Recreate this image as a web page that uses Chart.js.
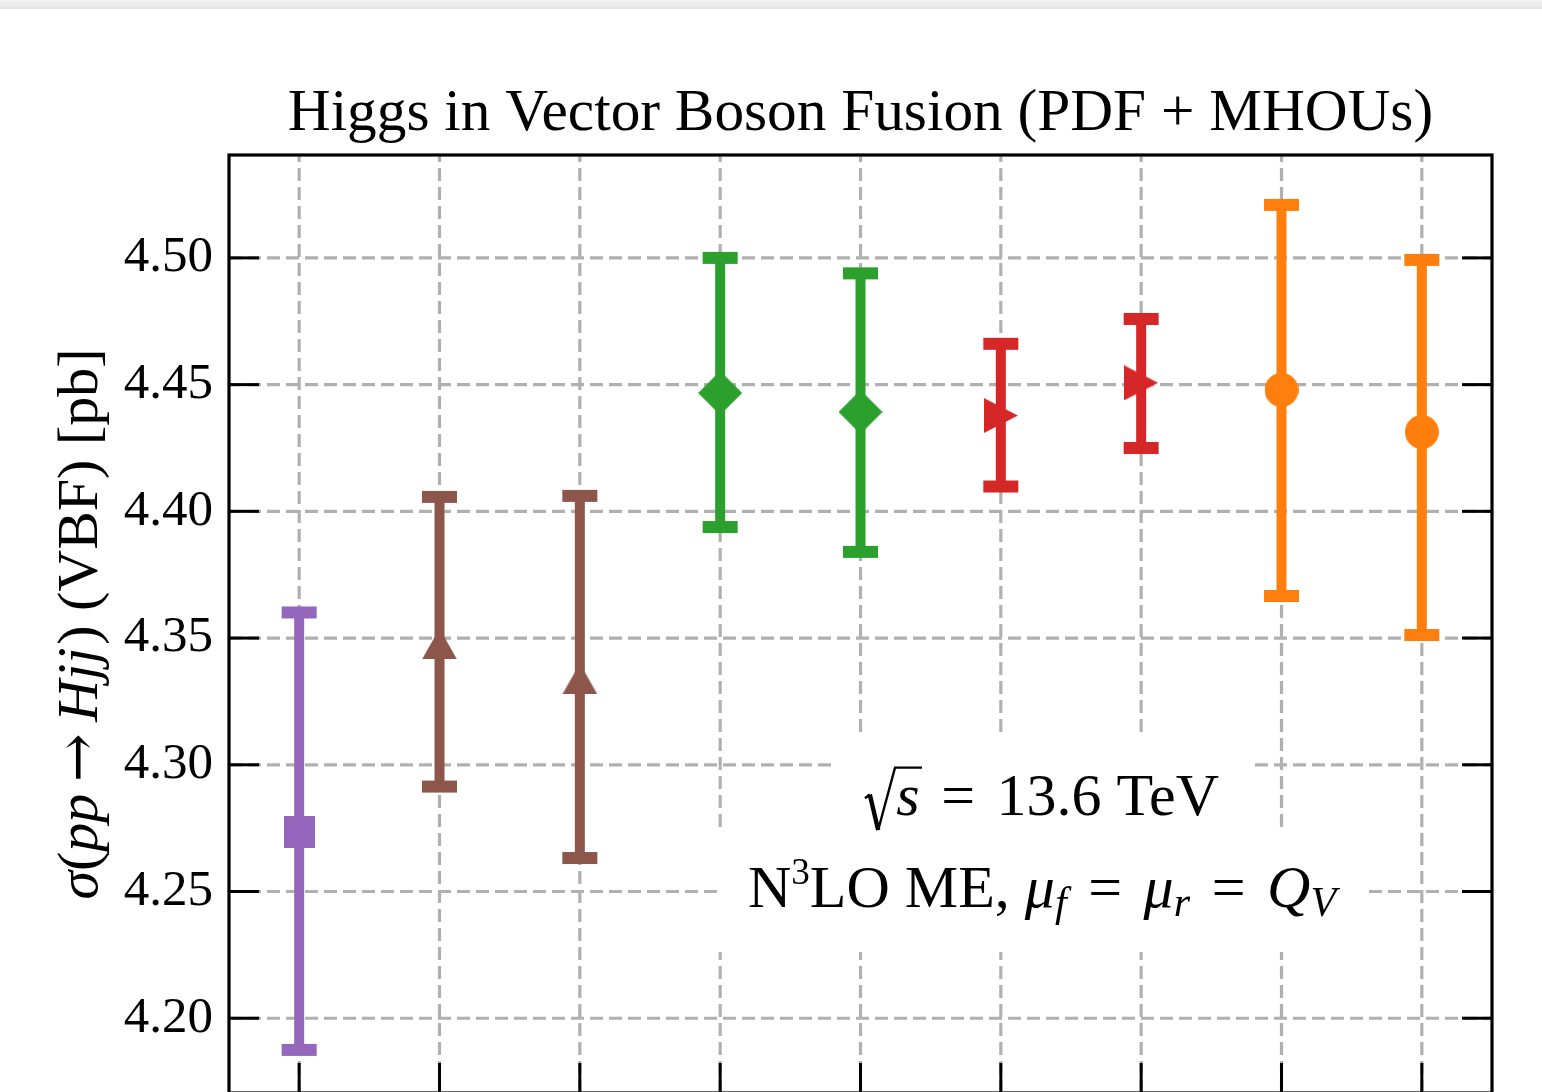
<!DOCTYPE html>
<html lang="en">
<head>
  <meta charset="UTF-8" />
  <title>Higgs in Vector Boson Fusion</title>
  <script src="https://cdn.jsdelivr.net/npm/chart.js"></script>
  <style>
    html, body { margin: 0; padding: 0; background: #fff; overflow: hidden; }
    #wrap { position: absolute; left: 0; top: 0; width: 1542px; height: 1150px; }
    .topbar {
      position: absolute; left: 0; top: 0; width: 100%; height: 9px; z-index: 2;
      background: linear-gradient(#f1f1f1, #e4e4e4);
    }
  </style>
</head>
<body>
<div id="wrap"><canvas id="xsec" width="1542" height="1150"></canvas></div>
<div class="topbar"></div>

<script>
  // cross sections with PDF + MHOU bands, one entry per setup
  const positions = [1, 2, 3, 4, 5, 6, 7, 8, 9];
  const central = [4.2735, 4.3477, 4.3339, 4.4467, 4.4392, 4.4378, 4.4507, 4.4479, 4.4313];
  const upper   = [4.3601, 4.4057, 4.4061, 4.5000, 4.4939, 4.4661, 4.4759, 4.5209, 4.4992];
  const lower   = [4.1875, 4.2914, 4.2632, 4.3938, 4.3840, 4.4098, 4.4250, 4.3666, 4.3512];
  const colors  = ['#9467bd', '#8c564b', '#8c564b', '#2ca02c', '#2ca02c', '#d62728', '#d62728', '#ff7f0e', '#ff7f0e'];
  const shapes  = ['square', 'triangleUp', 'triangleUp', 'diamond', 'diamond', 'triangleRight', 'triangleRight', 'circle', 'circle'];
  const yTicks  = [4.20, 4.25, 4.30, 4.35, 4.40, 4.45, 4.50];
  const yMin = 4.1705, yMax = 4.5406;
  const xMin = 0.5, xMax = 9.5;

  const SERIF = '"Liberation Serif", "DejaVu Serif", serif';
  const SYMB = '"DejaVu Serif", serif';

  // matplotlib-like marker glyphs, centred on their bounding box
  function markerImage(shape, color) {
    const sizes = { square: [31, 32], triangleUp: [35, 31], triangleRight: [34, 35], diamond: [44, 44], circle: [34, 34] };
    const [w, h] = sizes[shape];
    const c = document.createElement('canvas');
    c.width = w; c.height = h;
    const g = c.getContext('2d');
    g.fillStyle = color;
    g.beginPath();
    if (shape === 'square') g.rect(0, 0, w, h);
    else if (shape === 'triangleUp') { g.moveTo(w / 2, 0); g.lineTo(w, h); g.lineTo(0, h); }
    else if (shape === 'triangleRight') { g.moveTo(0, 0); g.lineTo(w, h / 2); g.lineTo(0, h); }
    else if (shape === 'diamond') { g.moveTo(w / 2, 0); g.lineTo(w, h / 2); g.lineTo(w / 2, h); g.lineTo(0, h / 2); }
    else g.arc(w / 2, h / 2, w / 2, 0, Math.PI * 2);
    g.closePath();
    g.fill();
    return c;
  }

  // rich text runs: it = italic, sup/sub = scripts, pad = extra space (em) on both sides
  function runFont(r, size) {
    const s = r.sup ? size * 0.62 : r.sub ? size * 0.7 : size;
    return { s, font: (r.it ? 'italic ' : '') + s + 'px ' + (r.sym ? SYMB : SERIF) };
  }
  function runsWidth(ctx, runs, size) {
    let w = 0;
    runs.forEach(r => {
      ctx.font = runFont(r, size).font;
      w += ctx.measureText(r.t).width + 2 * (r.pad || 0) * size + (r.gap || 0) * size;
    });
    return w;
  }
  function drawRuns(ctx, runs, x, y, size) {
    runs.forEach(r => {
      const dy = r.sup ? -0.38 * size : r.sub ? 0.15 * size : 0;
      ctx.font = runFont(r, size).font;
      x += (r.pad || 0) * size;
      ctx.fillText(r.t, x, y + dy);
      x += ctx.measureText(r.t).width + (r.pad || 0) * size + (r.gap || 0) * size;
    });
  }

  function line(ctx, x1, y1, x2, y2) {
    ctx.beginPath(); ctx.moveTo(x1, y1); ctx.lineTo(x2, y2); ctx.stroke();
  }

  const titleText = 'Higgs in Vector Boson Fusion (PDF + MHOUs)';
  const yLabelRuns = [
    { t: 'σ', it: true }, { t: '(' }, { t: 'pp', it: true }, { t: '→', sym: true, pad: 0.2 },
    { t: 'Hjj', it: true, gap: 0.05 }, { t: ') (VBF) [pb]' }
  ];
  const noteRuns = [
    { t: 'N' }, { t: '3', sup: true }, { t: 'LO ME, ' },
    { t: 'μ', it: true }, { t: 'f', it: true, sub: true }, { t: '=', pad: 0.36 },
    { t: 'μ', it: true }, { t: 'r', it: true, sub: true }, { t: '=', pad: 0.36 },
    { t: 'Q', it: true }, { t: 'V', it: true, sub: true }
  ];
  const energyRuns = [{ t: 's', it: true }, { t: '=', pad: 0.36 }, { t: '13.6 TeV' }];

  const axesDecor = {
    id: 'axesDecor',
    beforeDatasetsDraw(chart) {
      const { ctx, chartArea: a, scales: { x, y } } = chart;
      ctx.save();
      // dashed grid
      ctx.strokeStyle = '#b0b0b0';
      ctx.lineWidth = 3.2;
      ctx.setLineDash([13, 6]);
      yTicks.forEach(v => { const py = y.getPixelForValue(v); line(ctx, a.left, py, a.right, py); });
      positions.forEach(v => { const px = x.getPixelForValue(v); line(ctx, px, a.bottom, px, a.top); });
      ctx.setLineDash([]);

      // error bars with caps
      positions.forEach((p, i) => {
        const px = x.getPixelForValue(p);
        const pHi = y.getPixelForValue(upper[i]);
        const pLo = y.getPixelForValue(lower[i]);
        ctx.strokeStyle = colors[i];
        ctx.fillStyle = colors[i];
        ctx.lineWidth = 10;
        line(ctx, px, pLo, px, pHi);
        ctx.fillRect(px - 17.5, pHi - 6, 35, 12);
        ctx.fillRect(px - 17.5, pLo - 6, 35, 12);
      });
      ctx.restore();
    },
    afterDatasetsDraw(chart) {
      const { ctx, chartArea: a, scales: { x, y } } = chart;
      const W = a.right - a.left, H = a.bottom - a.top;
      ctx.save();
      ctx.fillStyle = '#000';
      ctx.textBaseline = 'alphabetic';

      // annotation boxes (white, no edge) and their text
      const fs = 60;
      const cx = a.left + 0.6437 * W;
      const base1 = a.top + 0.7036 * H;
      const base2 = a.top + 0.8017 * H;
      const rad = 0.52 * fs;
      const w1 = rad + runsWidth(ctx, energyRuns, fs);
      const w2 = runsWidth(ctx, noteRuns, fs);
      ctx.fillStyle = '#fff';
      ctx.fillRect(cx - w1 / 2 - 33, base1 - 77, w1 + 66, 120);
      ctx.fillRect(cx - w2 / 2 - 30, base2 - 75, w2 + 60, 120);
      ctx.fillStyle = '#000';
      ctx.strokeStyle = '#000';

      // radical sign over s
      const rx = cx - w1 / 2;
      ctx.font = 'italic ' + fs + 'px ' + SERIF;
      const sW = ctx.measureText('s').width;
      ctx.lineJoin = 'miter';
      ctx.lineWidth = 2.6;
      line(ctx, rx, base1 - 0.28 * fs, rx + 0.08 * fs, base1 - 0.34 * fs);
      ctx.lineWidth = 4.4;
      line(ctx, rx + 0.08 * fs, base1 - 0.34 * fs, rx + 0.22 * fs, base1 + 0.25 * fs);
      ctx.lineWidth = 2.4;
      ctx.beginPath();
      ctx.moveTo(rx + 0.22 * fs, base1 + 0.25 * fs);
      ctx.lineTo(rx + 0.50 * fs, base1 - 0.79 * fs);
      ctx.lineTo(rx + rad + sW + 0.04 * fs, base1 - 0.79 * fs);
      ctx.stroke();
      drawRuns(ctx, energyRuns, rx + rad, base1, fs);
      drawRuns(ctx, noteRuns, cx - w2 / 2, base2, fs);

      // axes frame and inward ticks
      ctx.lineWidth = 3.2;
      ctx.strokeRect(a.left, a.top, W, H);
      ctx.lineWidth = 3;
      yTicks.forEach(v => {
        const py = y.getPixelForValue(v);
        line(ctx, a.left, py, a.left + 30, py);
        line(ctx, a.right - 30, py, a.right, py);
      });
      positions.forEach(v => {
        const px = x.getPixelForValue(v);
        line(ctx, px, a.bottom, px, a.bottom - 30);
      });

      // title centred on the axes
      ctx.font = '59.3px ' + SERIF;
      ctx.textAlign = 'center';
      ctx.fillText(titleText, (a.left + a.right) / 2, 130);

      // rotated y label
      ctx.textAlign = 'left';
      const lw = runsWidth(ctx, yLabelRuns, 58);
      ctx.translate(97, (a.top + a.bottom) / 2);
      ctx.rotate(-Math.PI / 2);
      drawRuns(ctx, yLabelRuns, -lw / 2, 0, 58);
      ctx.restore();
    }
  };

  new Chart(document.getElementById('xsec'), {
    type: 'scatter',
    data: {
      datasets: [{
        data: positions.map((p, i) => ({ x: p, y: central[i] })),
        pointStyle: shapes.map((s, i) => markerImage(s, colors[i])),
        pointRadius: 18,
        showLine: false
      }]
    },
    options: {
      responsive: false,
      animation: false,
      events: [],
      layout: { padding: { top: 155, right: 50, bottom: 57, left: 0 } },
      plugins: { legend: { display: false }, tooltip: { enabled: false }, title: { display: false } },
      scales: {
        x: { type: 'linear', min: xMin, max: xMax, display: false },
        y: {
          type: 'linear',
          min: yMin,
          max: yMax,
          afterBuildTicks: s => { s.ticks = yTicks.map(v => ({ value: v })); },
          afterFit: s => { s.width = 229; },
          grid: { display: false, drawTicks: false },
          border: { display: false },
          ticks: {
            color: '#000',
            padding: 16,
            font: { family: SERIF, size: 51 },
            callback: v => Number(v).toFixed(2)
          }
        }
      }
    },
    plugins: [axesDecor]
  });
</script>
</body>
</html>
